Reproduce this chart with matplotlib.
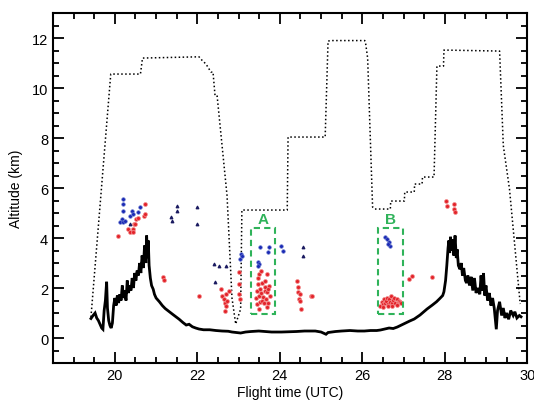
import numpy as np
import matplotlib
matplotlib.use("Agg")
import matplotlib.pyplot as plt
from matplotlib.patches import Rectangle
from matplotlib.ticker import MultipleLocator

plt.rcParams["font.family"] = ["Liberation Sans", "DejaVu Sans"]

# aircraft flight altitude (dotted track), waypoints
flight_time = [19.42, 19.90, 20.62, 20.67, 22.04, 22.12, 22.21, 22.33, 22.38,
               22.43, 22.48, 22.72, 22.84, 22.93, 23.05, 23.08, 24.18, 24.20,
               24.28, 25.10, 25.17, 25.24, 26.06, 26.08, 26.13, 26.25, 26.30,
               26.68, 26.69, 27.02, 27.03, 27.26, 27.27, 27.45, 27.46, 27.74,
               27.81, 27.97, 27.98, 29.33, 29.42, 29.57, 29.83]
flight_alt = [0.84, 10.56, 10.56, 11.20, 11.25, 11.10, 10.96, 10.64, 10.64,
              9.68, 9.68, 5.70, 1.60, 0.56, 1.16, 5.12, 5.12, 8.04,
              8.04, 8.04, 11.88, 11.90, 11.90, 11.80, 11.20, 5.24, 5.16,
              5.16, 5.48, 5.48, 5.84, 5.84, 6.16, 6.16, 6.44, 6.44,
              10.88, 10.88, 11.52, 11.48, 7.70, 5.96, 1.36]

# boundary layer height (solid black)
bl_time = [19.42, 19.47, 19.52, 19.56, 19.60, 19.64, 19.68, 19.71, 19.74, 19.77,
           19.80, 19.82, 19.85, 19.88, 19.91, 19.94, 19.97, 20.00, 20.03, 20.06,
           20.09, 20.12, 20.15, 20.18, 20.21, 20.24, 20.27, 20.30, 20.33, 20.36,
           20.39, 20.42, 20.45, 20.48, 20.51, 20.54, 20.57, 20.60, 20.63, 20.66,
           20.69, 20.72, 20.75, 20.77, 20.79, 20.81, 20.83, 20.86, 20.89, 20.93,
           20.96, 21.00, 21.08, 21.15, 21.22, 21.32, 21.40, 21.48, 21.56, 21.65,
           21.73, 21.80, 21.88, 21.96, 22.04, 22.15, 22.30, 22.45, 22.60, 22.75,
           22.84, 22.95, 23.05, 23.17, 23.30, 23.49, 23.65, 23.80, 24.04, 24.20,
           24.40, 24.60, 24.86, 25.00, 25.12, 25.17, 25.35, 25.50, 25.70, 25.89,
           26.05, 26.20, 26.35, 26.44, 26.55, 26.65, 26.75, 26.85, 26.95, 27.05,
           27.15, 27.26, 27.40, 27.57, 27.70, 27.80, 27.88, 27.95, 27.98, 28.02,
           28.05, 28.08, 28.10, 28.12, 28.14, 28.16, 28.19, 28.22, 28.25, 28.28,
           28.30, 28.33, 28.37, 28.40, 28.43, 28.46, 28.50, 28.53, 28.56, 28.60,
           28.64, 28.68, 28.72, 28.76, 28.80, 28.85, 28.88, 28.91, 28.94, 28.97,
           29.00, 29.04, 29.08, 29.12, 29.16, 29.20, 29.25, 29.28, 29.33, 29.38,
           29.42, 29.46, 29.50, 29.55, 29.60, 29.66, 29.70, 29.75, 29.81, 29.85]
bl_height = [0.78, 0.90, 1.00, 0.80, 0.70, 0.55, 0.40, 0.35, 1.10, 1.50,
             2.25, 1.20, 0.70, 0.50, 0.40, 0.60, 1.30, 1.60, 1.30, 1.70,
             1.40, 1.75, 1.50, 2.10, 1.60, 1.90, 1.50, 2.30, 1.80, 2.10,
             1.90, 2.40, 2.00, 2.60, 2.30, 2.70, 2.50, 3.00, 2.60, 3.30,
             2.80, 3.70, 3.00, 4.10, 3.20, 3.90, 2.90, 2.40, 2.10, 1.95,
             1.75, 1.60, 1.45, 1.30, 1.18, 1.05, 0.95, 0.85, 0.75, 0.62,
             0.52, 0.55, 0.45, 0.40, 0.36, 0.33, 0.33, 0.30, 0.28, 0.27,
             0.24, 0.22, 0.20, 0.24, 0.26, 0.28, 0.26, 0.24, 0.24, 0.25,
             0.26, 0.28, 0.28, 0.24, 0.15, 0.22, 0.26, 0.28, 0.30, 0.28,
             0.28, 0.30, 0.30, 0.32, 0.36, 0.40, 0.38, 0.44, 0.52, 0.60,
             0.68, 0.76, 0.92, 1.16, 1.32, 1.45, 1.58, 1.70, 1.85, 2.30,
             2.90, 3.60, 3.90, 3.40, 4.05, 3.50, 3.95, 3.30, 4.10, 3.20,
             3.55, 2.90, 2.75, 3.00, 2.50, 2.80, 2.30, 2.20, 2.50, 2.10,
             2.45, 1.90, 2.40, 1.80, 2.00, 1.75, 2.50, 1.90, 2.60, 1.70,
             2.10, 1.50, 1.80, 1.30, 1.60, 1.20, 0.35, 1.10, 1.45, 0.90,
             1.20, 0.80, 1.00, 0.75, 1.10, 0.90, 1.05, 0.80, 0.90, 0.85]

# aerosol layers (red) and cloud layers (blue) detected by lidar
red_time = [20.07, 20.31, 20.36, 20.43, 20.43, 20.47, 20.50, 20.52, 20.55, 20.70,
            20.72, 20.74, 21.17, 21.19, 22.04,
            22.57, 22.60, 22.64, 22.66, 22.69, 22.69, 22.72, 22.76, 22.66,
            23.00, 23.01, 23.03, 23.01,
            23.42, 23.44, 23.45, 23.47, 23.49, 23.50, 23.52, 23.53, 23.55, 23.57,
            23.58, 23.60, 23.62, 23.63, 23.65, 23.67, 23.68, 23.70, 23.72, 23.74,
            23.76, 23.46, 23.55, 23.64, 23.71, 23.49, 23.68,
            24.42, 24.44, 24.43, 24.47, 24.50, 24.52, 24.48, 24.76, 24.78,
            26.44, 26.47, 26.50, 26.52, 26.55, 26.58, 26.60, 26.63, 26.65, 26.68,
            26.70, 26.73, 26.75, 26.78, 26.80, 26.83, 26.86, 26.89, 26.92, 26.95,
            26.50, 26.62, 26.72, 26.85,
            27.14, 27.21, 27.69,
            28.03, 28.05, 28.22, 28.22, 28.24]
red_alt = [4.08, 4.36, 4.24, 4.36, 4.24, 4.56, 4.56, 4.76, 4.80, 4.88,
           5.36, 4.96, 2.44, 2.34, 1.68,
           1.96, 1.70, 1.56, 1.40, 1.28, 1.76, 1.50, 1.88, 1.08,
           2.16, 1.76, 1.56, 2.64,
           1.60, 1.90, 1.35, 2.16, 1.70, 2.56, 1.45, 1.95, 1.80, 1.50,
           2.20, 1.65, 1.40, 1.90, 2.05, 1.55, 2.56, 1.85, 1.40, 2.10,
           1.70, 2.40, 2.70, 2.30, 1.95, 1.15, 1.25,
           2.28, 2.04, 1.84, 1.56, 1.48, 1.16, 1.76, 1.68, 1.70,
           1.30, 1.45, 1.35, 1.55, 1.40, 1.50, 1.62, 1.38, 1.55, 1.45,
           1.68, 1.40, 1.52, 1.60, 1.42, 1.55, 1.40, 1.50, 1.45, 1.42,
           1.24, 1.28, 1.30, 1.32,
           2.36, 2.48, 2.44,
           5.48, 5.28, 5.36, 5.16, 5.04]

blue_time = [20.19, 20.19, 20.19, 20.17, 20.12, 20.19, 20.24, 20.41, 20.36, 20.43,
             20.60, 20.55, 23.03, 23.05, 23.08,
             23.53, 23.73, 23.71, 23.46, 23.50, 23.48, 24.04, 24.08,
             26.56, 26.60, 26.66, 26.68, 26.63]
blue_alt = [5.56, 5.36, 5.08, 4.76, 4.64, 4.64, 4.70, 5.08, 4.88, 4.96,
            5.24, 5.04, 3.16, 3.36, 3.28,
            3.64, 3.64, 3.44, 3.04, 2.96, 2.90, 3.68, 3.48,
            4.04, 3.96, 3.84, 3.68, 3.76]

# small dark markers
dark_time = [20.36, 21.51, 21.51, 21.37, 21.39, 22.00, 22.00,
             22.40, 22.52, 22.69, 22.43, 24.57, 24.57]
dark_alt = [4.56, 5.28, 5.08, 4.84, 4.68, 5.24, 4.56,
            2.96, 2.88, 2.88, 2.24, 3.64, 3.28]

# highlighted cases
boxes = {"A": (23.29, 23.89, 0.96, 4.40), "B": (26.39, 26.99, 0.96, 4.40)}

GREEN = "#2fb35a"

fig = plt.figure(figsize=(5.34, 4.02), dpi=100)
ax = fig.add_axes([0.0993, 0.0945, 0.888, 0.8705])

ax.plot(flight_time, flight_alt, color="black", lw=1.1, ls=(0, (1, 1.6)))
ax.plot(bl_time, bl_height, color="black", lw=2.0, solid_joinstyle="miter")

ax.scatter(red_time, red_alt, s=8, color="#e3242b", edgecolors="#f39090",
           linewidths=0.5, zorder=3)
ax.scatter(blue_time, blue_alt, s=7, color="#1c2bb5", edgecolors="#7080d0",
           linewidths=0.4, zorder=3)
ax.scatter(dark_time, dark_alt, s=3, marker="^", color="#1a1a60", zorder=3)

for name, (x0, x1, y0, y1) in boxes.items():
    ax.add_patch(Rectangle((x0, y0), x1 - x0, y1 - y0, fill=False,
                           ec=GREEN, lw=1.5, ls=(0, (3, 2)), zorder=4))
    ax.text((x0 + x1) / 2, y1 + 0.08, name, color=GREEN, fontsize=11,
            fontweight="bold", ha="center", va="bottom")

ax.set_xlim(18.5, 30)
ax.set_ylim(-1, 13)
ax.xaxis.set_major_locator(MultipleLocator(2))
ax.xaxis.set_minor_locator(MultipleLocator(0.5))
ax.yaxis.set_major_locator(MultipleLocator(2))
ax.yaxis.set_minor_locator(MultipleLocator(0.5))
ax.tick_params(which="both", direction="in", top=True, right=True,
               labelsize=10.5, width=1.3)
ax.tick_params(which="major", length=8)
ax.tick_params(which="minor", length=4)
for s in ax.spines.values():
    s.set_linewidth(1.5)

ax.set_xlabel("Flight time (UTC)", fontsize=10, labelpad=2)
ax.set_ylabel("Altitude (km)", fontsize=10, labelpad=6)

fig.savefig("out.png", dpi=100)
